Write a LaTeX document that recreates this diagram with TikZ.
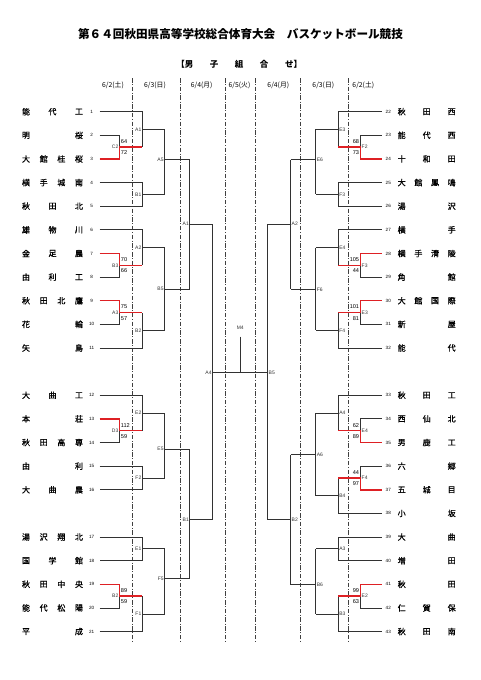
\documentclass[tikz,border=0pt]{standalone}
\usepackage{fontspec}
\newfontfamily\jp{Noto Sans CJK JP}
\newfontfamily\jpm{Noto Sans CJK JP}[FakeBold=0.9]
\newfontfamily\ar{Liberation Sans}
\definecolor{wred}{RGB}{222,32,36}
\definecolor{lgray}{RGB}{50,50,50}
\tikzset{
  br/.style={line width=0.85pt, lgray},
  win/.style={line width=1.5pt, wred},
  dd/.style={line width=0.8pt, black!75, dash pattern=on 4.5pt off 1.6pt on 1pt off 1.6pt},
  tname/.style={font=\jpm\fontsize{8}{8}\selectfont, inner sep=0pt},
  num/.style={font=\ar\fontsize{4.6}{5}\selectfont, inner sep=0pt},
  lbl/.style={font=\ar\fontsize{5}{5}\selectfont, inner sep=0.2pt, text=black!80},
  score/.style={font=\ar\fontsize{5.6}{6}\selectfont, inner sep=0.2pt},
  datehd/.style={font=\jp\fontsize{6.8}{7}\selectfont, inner sep=0pt},
}
\def\LT{99.5}\def\LA{119.3}\def\LB{142.3}\def\LC{164.6}\def\LD{189.8}\def\LE{212.6}
\def\RT{381.5}\def\RA{360.7}\def\RB{338.3}\def\RC{315.8}\def\RD{290.7}\def\RE{267.7}
\newcommand\teamL[4]{%
  \coordinate (t#2) at (\LT,#1);
  \node[num] (n#2) at (91.7,#1) {#2};
  \foreach \ch [count=\k] in {#4} {\node[tname] (nm#2-\k) at ({26+53*(\k-1)/(#3-1)},#1) {\ch};}}
\newcommand\teamR[4]{%
  \coordinate (t#2) at (\RT,#1);
  \node[num] (n#2) at (388.3,#1) {#2};
  \foreach \ch [count=\k] in {#4} {\node[tname] (nm#2-\k) at ({401.7+50*(\k-1)/(#3-1)},#1) {\ch};}}
\newcommand\rlabL[4]{%
  \node[lbl,anchor=east] (g#1) at ([xshift=-0.6pt]#1) {#2};
  \node[score,anchor=west] (s#1a) at ([xshift=1.2pt,yshift=5.6pt]#1) {#3};
  \node[score,anchor=west] (s#1b) at ([xshift=1.2pt,yshift=-5.6pt]#1) {#4};}
\newcommand\rlabR[4]{%
  \node[lbl,anchor=west] (g#1) at ([xshift=0.6pt]#1) {#2};
  \node[score,anchor=east] (s#1a) at ([xshift=-1.2pt,yshift=5.6pt]#1) {#3};
  \node[score,anchor=east] (s#1b) at ([xshift=-1.2pt,yshift=-5.6pt]#1) {#4};}
\newcommand\mlabL[2]{\node[lbl,anchor=east] (g#1) at ([xshift=-0.6pt]#1) {#2};}
\newcommand\mlabR[2]{\node[lbl,anchor=west] (g#1) at ([xshift=0.6pt]#1) {#2};}
\begin{document}
\begin{tikzpicture}[x=1pt,y=-1pt]
\path[use as bounding box] (0,0) rectangle (481,680);
% titles
\node[font=\jp\bfseries\fontsize{11.6}{12}\selectfont, inner sep=0pt] (title) at (240.5,34.3) {第６４回秋田県高等学校総合体育大会　バスケットボール競技};
\begin{scope}[every node/.style={font=\jp\bfseries\fontsize{8.5}{9}\selectfont, inner sep=0pt}]
\node (sub1) at (184.8,64) {【男};
\node (sub2) at (214,64) {子};
\node (sub3) at (239,64) {組};
\node (sub4) at (264,64) {合};
\node (sub5) at (293.5,64) {せ】};
\end{scope}
\node[datehd] (d1) at (113,85) {6/2(土)};
\node[datehd] (d2) at (155,85) {6/3(日)};
\node[datehd] (d3) at (201.7,85) {6/4(月)};
\node[datehd] (d4) at (239.5,85) {6/5(火)};
\node[datehd] (d5) at (278.3,85) {6/4(月)};
\node[datehd] (d6) at (323.3,85) {6/3(日)};
\node[datehd] (d7) at (363.3,85) {6/2(土)};
% day separators
\foreach \xx in {132.3,180,225,255.5,300.7,348.3} \draw[dd] (\xx,78) -- (\xx,643);
% teams left
\teamL{111.7}{1}{3}{能,代,工}
\teamL{135.33}{2}{2}{明,桜}
\teamL{158.96}{3}{4}{大,館,桂,桜}
\teamL{182.59}{4}{4}{横,手,城,南}
\teamL{206.22}{5}{3}{秋,田,北}
\teamL{229.85}{6}{3}{雄,物,川}
\teamL{253.48}{7}{3}{金,足,農}
\teamL{277.11}{8}{3}{由,利,工}
\teamL{300.74}{9}{4}{秋,田,北,鷹}
\teamL{324.37}{10}{2}{花,輪}
\teamL{348.0}{11}{2}{矢,島}
\teamL{395.26}{12}{3}{大,曲,工}
\teamL{418.89}{13}{2}{本,荘}
\teamL{442.52}{14}{4}{秋,田,高,専}
\teamL{466.15}{15}{2}{由,利}
\teamL{489.78}{16}{3}{大,曲,農}
\teamL{537.04}{17}{4}{湯,沢,翔,北}
\teamL{560.67}{18}{3}{国,学,館}
\teamL{584.3}{19}{4}{秋,田,中,央}
\teamL{607.93}{20}{4}{能,代,松,陽}
\teamL{631.56}{21}{2}{平,成}
% teams right
\teamR{111.7}{22}{3}{秋,田,西}
\teamR{135.33}{23}{3}{能,代,西}
\teamR{158.96}{24}{3}{十,和,田}
\teamR{182.59}{25}{4}{大,館,鳳,鳴}
\teamR{206.22}{26}{2}{湯,沢}
\teamR{229.85}{27}{2}{横,手}
\teamR{253.48}{28}{4}{横,手,清,陵}
\teamR{277.11}{29}{2}{角,館}
\teamR{300.74}{30}{4}{大,館,国,際}
\teamR{324.37}{31}{2}{新,屋}
\teamR{348.0}{32}{2}{能,代}
\teamR{395.26}{33}{3}{秋,田,工}
\teamR{418.89}{34}{3}{西,仙,北}
\teamR{442.52}{35}{3}{男,鹿,工}
\teamR{466.15}{36}{2}{六,郷}
\teamR{489.78}{37}{3}{五,城,目}
\teamR{513.41}{38}{2}{小,坂}
\teamR{537.04}{39}{2}{大,曲}
\teamR{560.67}{40}{2}{増,田}
\teamR{584.3}{41}{2}{秋,田}
\teamR{607.93}{42}{3}{仁,賀,保}
\teamR{631.56}{43}{3}{秋,田,南}
% match points left
\coordinate (lc2) at (\LA,147.15);
\coordinate (lb3) at (\LA,265.3);
\coordinate (la3) at (\LA,312.55);
\coordinate (ld3) at (\LA,430.7);
\coordinate (lb2) at (\LA,596.1);
\coordinate (la1) at (\LB,129.4);
\coordinate (lb1) at (\LB,194.4);
\coordinate (la2) at (\LB,247.6);
\coordinate (lb2x) at (\LB,330.3);
\coordinate (le2) at (\LB,413.2);
\coordinate (lf2) at (\LB,478.0);
\coordinate (le1) at (\LB,548.9);
\coordinate (lf1) at (\LB,614.0);
\coordinate (la5) at (\LC,159.5);
\coordinate (lb5) at (\LC,289.3);
\coordinate (le5) at (\LC,449.0);
\coordinate (lf5) at (\LC,578.5);
\coordinate (la1x) at (\LD,224.2);
\coordinate (lb1x) at (\LD,519.5);
\coordinate (la4) at (\LE,372.3);
% match points right
\coordinate (rf2) at (\RA,147.15);
\coordinate (rf3) at (\RA,265.3);
\coordinate (re3) at (\RA,312.55);
\coordinate (re4) at (\RA,430.7);
\coordinate (rf4) at (\RA,478.0);
\coordinate (re2) at (\RA,596.1);
\coordinate (re3x) at (\RB,129.4);
\coordinate (rf3x) at (\RB,194.4);
\coordinate (re4x) at (\RB,247.6);
\coordinate (rf4x) at (\RB,330.3);
\coordinate (ra4) at (\RB,413.1);
\coordinate (rb4) at (\RB,495.8);
\coordinate (ra3) at (\RB,548.9);
\coordinate (rb3) at (\RB,614.0);
\coordinate (re6) at (\RC,159.5);
\coordinate (rf6) at (\RC,289.3);
\coordinate (ra6) at (\RC,454.5);
\coordinate (rb6) at (\RC,584.7);
\coordinate (ra2) at (\RD,224.2);
\coordinate (rb2) at (\RD,519.6);
\coordinate (rb5) at (\RE,372.3);
\coordinate (m4) at (240.3,336.7);
% ---- black lines left
\draw[br] (t1) -| (la1) -- (la1 |- lc2);
\draw[br] (t2) -| (lc2);
\draw[br] (t3) -- (t3 -| lc2);
\draw[br] (la1) -- (la1 -| la5);
\draw[br] (t4) -| (lb1) |- (t5);
\draw[br] (lb1) -- (lb1 -| la5);
\draw[br] (la5 |- la1) -- (la5 |- lb1);
\draw[br] (la5) -- (la5 -| la1x);
\draw[br] (t6) -| (la2) -- (la2 |- lb3);
\draw[br] (t8) -| (lb3);
\draw[br] (la2) -- (la2 -| lb5);
\draw[br] (t10) -| (la3);
\draw[br] (t11) -| (lb2x) -- (lb2x |- la3);
\draw[br] (lb2x) -- (lb2x -| lb5);
\draw[br] (lb5 |- la2) -- (lb5 |- lb2x);
\draw[br] (lb5) -- (lb5 -| la1x);
\draw[br] (la1x |- la5) -- (la1x |- lb5);
\draw[br] (la1x) -- (la1x -| la4);
\draw[br] (t12) -| (le2) -- (le2 |- ld3);
\draw[br] (t14) -| (ld3);
\draw[br] (le2) -- (le2 -| le5);
\draw[br] (t15) -| (lf2) |- (t16);
\draw[br] (lf2) -- (lf2 -| le5);
\draw[br] (le5 |- le2) -- (le5 |- lf2);
\draw[br] (le5) -- (le5 -| lb1x);
\draw[br] (t17) -| (le1) |- (t18);
\draw[br] (le1) -- (le1 -| lf5);
\draw[br] (t20) -| (lb2);
\draw[br] (t21) -| (lf1) -- (lf1 |- lb2);
\draw[br] (lf1) -- (lf1 -| lf5);
\draw[br] (lf5 |- le1) -- (lf5 |- lf1);
\draw[br] (lf5) -- (lf5 -| lb1x);
\draw[br] (lb1x |- le5) -- (lb1x |- lf5);
\draw[br] (lb1x) -- (lb1x -| la4);
\draw[br] (la4 |- la1x) -- (la4 |- lb1x);
% ---- centre
\draw[br] (la4) -- (rb5);
\draw[br] (m4) -- (m4 |- la4);
% ---- black lines right
\draw[br] (t22) -| (re3x) -- (re3x |- rf2);
\draw[br] (t23) -| (rf2);
\draw[br] (re3x) -- (re3x -| re6);
\draw[br] (t25) -| (rf3x) |- (t26);
\draw[br] (rf3x) -- (rf3x -| re6);
\draw[br] (re6 |- re3x) -- (re6 |- rf3x);
\draw[br] (re6) -- (re6 -| ra2);
\draw[br] (t27) -| (re4x) -- (re4x |- rf3);
\draw[br] (t29) -| (rf3);
\draw[br] (re4x) -- (re4x -| rf6);
\draw[br] (t31) -| (re3);
\draw[br] (t32) -| (rf4x) -- (rf4x |- re3);
\draw[br] (rf4x) -- (rf4x -| rf6);
\draw[br] (rf6 |- re4x) -- (rf6 |- rf4x);
\draw[br] (rf6) -- (rf6 -| ra2);
\draw[br] (ra2 |- re6) -- (ra2 |- rf6);
\draw[br] (ra2) -- (ra2 -| rb5);
\draw[br] (t33) -| (ra4) -- (ra4 |- re4);
\draw[br] (t34) -| (re4);
\draw[br] (ra4) -- (ra4 -| ra6);
\draw[br] (t36) -| (rf4);
\draw[br] (t38) -| (rb4) -- (rb4 |- rf4);
\draw[br] (rb4) -- (rb4 -| ra6);
\draw[br] (ra6 |- ra4) -- (ra6 |- rb4);
\draw[br] (ra6) -- (ra6 -| rb2);
\draw[br] (t39) -| (ra3) |- (t40);
\draw[br] (ra3) -- (ra3 -| rb6);
\draw[br] (t42) -| (re2);
\draw[br] (t43) -| (rb3) -- (rb3 |- re2);
\draw[br] (rb3) -- (rb3 -| rb6);
\draw[br] (rb6 |- ra3) -- (rb6 |- rb3);
\draw[br] (rb6) -- (rb6 -| rb2);
\draw[br] (rb2 |- ra6) -- (rb2 |- rb6);
\draw[br] (rb2) -- (rb2 -| rb5);
\draw[br] (rb5 |- ra2) -- (rb5 |- rb2);
% ---- winners (red)
\draw[win] (t3) -| (lc2) -- (lc2 -| la1);
\draw[win] (t7) -| (lb3) -- (lb3 -| la2);
\draw[win] (t9) -| (la3) -- (la3 -| lb2x);
\draw[win] (t13) -| (ld3) -- (ld3 -| le2);
\draw[win] (t19) -| (lb2) -- (lb2 -| lf1);
\draw[win] (t24) -| (rf2) -- (rf2 -| re3x);
\draw[win] (t28) -| (rf3) -- (rf3 -| re4x);
\draw[win] (t30) -| (re3) -- (re3 -| rf4x);
\draw[win] (t35) -| (re4) -- (re4 -| ra4);
\draw[win] (t37) -| (rf4) -- (rf4 -| rb4);
\draw[win] (t41) -| (re2) -- (re2 -| rb3);
% ---- labels
\rlabL{lc2}{C2}{64}{72}
\rlabL{lb3}{B3}{70}{66}
\rlabL{la3}{A3}{75}{57}
\rlabL{ld3}{D3}{112}{59}
\rlabL{lb2}{B2}{89}{59}
\rlabR{rf2}{F2}{68}{73}
\rlabR{rf3}{F3}{105}{44}
\rlabR{re3}{E3}{101}{81}
\rlabR{re4}{E4}{62}{89}
\rlabR{rf4}{F4}{44}{97}
\rlabR{re2}{E2}{99}{63}
\mlabL{la1}{A1}\mlabL{lb1}{B1}\mlabL{la2}{A2}\mlabL{lb2x}{B2}
\mlabL{le2}{E2}\mlabL{lf2}{F2}\mlabL{le1}{E1}\mlabL{lf1}{F1}
\mlabL{la5}{A5}\mlabL{lb5}{B5}\mlabL{le5}{E5}\mlabL{lf5}{F5}
\mlabL{la1x}{A1}\mlabL{lb1x}{B1}\mlabL{la4}{A4}
\mlabR{re3x}{E3}\mlabR{rf3x}{F3}\mlabR{re4x}{E4}\mlabR{rf4x}{F4}
\mlabR{ra4}{A4}\mlabR{rb4}{B4}\mlabR{ra3}{A3}\mlabR{rb3}{B3}
\mlabR{re6}{E6}\mlabR{rf6}{F6}\mlabR{ra6}{A6}\mlabR{rb6}{B6}
\mlabR{ra2}{A2}\mlabR{rb2}{B2}\mlabR{rb5}{B5}
\node[lbl] (gm4) at (240.3,327.7) {M4};
\end{tikzpicture}
\end{document}
